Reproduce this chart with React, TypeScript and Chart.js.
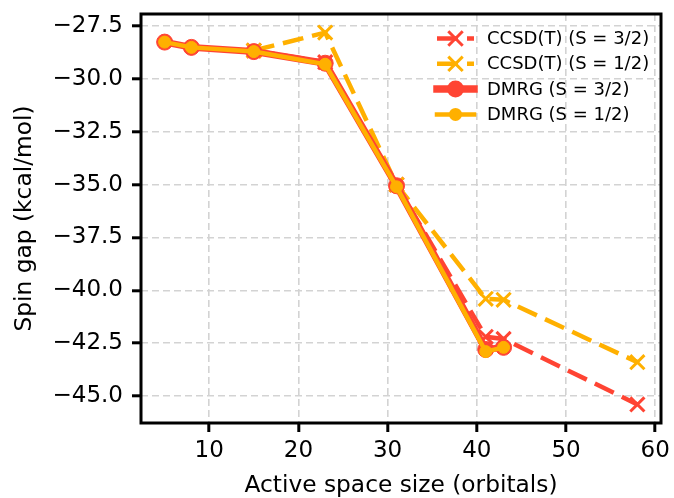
import React, { useEffect, useRef } from 'react';
import { Chart, registerables } from 'chart.js';

Chart.register(...registerables);

// ---- data ----
const ccsdOrbitals = [15, 23, 31, 41, 43, 58];
const ccsdQuartet = [-28.65, -29.2, -35.0, -42.2, -42.3, -45.4];
const ccsdDoublet = [-28.65, -27.8, -35.0, -40.4, -40.45, -43.4];
const dmrgOrbitals = [5, 8, 15, 23, 31, 41, 43];
const dmrgQuartet = [-28.25, -28.5, -28.7, -29.25, -35.05, -42.8, -42.7];
const dmrgDoublet = [-28.25, -28.5, -28.7, -29.3, -35.1, -42.9, -42.7];
const seriesLabels = ['CCSD(T) (S = 3/2)', 'CCSD(T) (S = 1/2)', 'DMRG (S = 3/2)', 'DMRG (S = 1/2)'];
const xAxisTitle = 'Active space size (orbitals)';
const yAxisTitle = 'Spin gap (kcal/mol)';

const RED = '#ff4433';
const ORANGE = '#ffb000';
const FONT = "'DejaVu Sans', sans-serif";

const toPoints = (xs: number[], ys: number[]) => xs.map((x, i) => ({ x, y: ys[i] }));

const CCSD_DASH = [21, 9];

type LegendSpec = { label: string; color: string; dashed: boolean; lineWidth: number; marker: 'x' | 'o'; size: number };

const legendSpecs: LegendSpec[] = [
  { label: seriesLabels[0], color: RED, dashed: true, lineWidth: 4.5, marker: 'x', size: 7.2 },
  { label: seriesLabels[1], color: ORANGE, dashed: true, lineWidth: 4.5, marker: 'x', size: 7.2 },
  { label: seriesLabels[2], color: RED, dashed: false, lineWidth: 7.5, marker: 'o', size: 8.5 },
  { label: seriesLabels[3], color: ORANGE, dashed: false, lineWidth: 4.5, marker: 'o', size: 6.5 },
];

const framePlugin = {
  id: 'frameAndLegend',
  afterDatasetsDraw(chart: any) {
    const { ctx, chartArea } = chart;
    const { left, right, top, bottom } = chartArea;
    ctx.save();
    // legend
    const x0 = right - 224;
    const x1 = right - 187;
    const xm = (x0 + x1) / 2;
    const tx = right - 174;
    legendSpecs.forEach((s, i) => {
      const y = top + 24.5 + 25.3 * i;
      ctx.beginPath();
      ctx.strokeStyle = s.color;
      ctx.lineWidth = s.lineWidth;
      ctx.lineCap = s.dashed ? 'butt' : 'square';
      ctx.setLineDash(s.dashed ? CCSD_DASH : []);
      ctx.moveTo(x0, y);
      ctx.lineTo(x1, y);
      ctx.stroke();
      ctx.setLineDash([]);
      ctx.lineCap = 'butt';
      if (s.marker === 'x') {
        const h = s.size;
        ctx.lineWidth = 3;
        ctx.beginPath();
        ctx.moveTo(xm - h, y - h);
        ctx.lineTo(xm + h, y + h);
        ctx.moveTo(xm - h, y + h);
        ctx.lineTo(xm + h, y - h);
        ctx.stroke();
      } else {
        ctx.beginPath();
        ctx.fillStyle = s.color;
        ctx.arc(xm, y, s.size, 0, Math.PI * 2);
        ctx.fill();
      }
      ctx.fillStyle = '#000';
      ctx.font = `18px ${FONT}`;
      ctx.textAlign = 'left';
      ctx.textBaseline = 'middle';
      ctx.fillText(s.label, tx, y + 1);
    });
    // frame
    ctx.strokeStyle = '#000';
    ctx.lineWidth = 3;
    ctx.setLineDash([]);
    ctx.strokeRect(left, top, right - left, bottom - top);
    ctx.restore();
  },
};

const fmtY = (v: number) => (v < 0 ? '\u2212' : '') + Math.abs(v).toFixed(1);

export default function App() {
  const ref = useRef<HTMLCanvasElement | null>(null);
  useEffect(() => {
    if (!ref.current) return;
    const gridColor = '#d3d3d3';
    const chart = new Chart(ref.current, {
      type: 'line',
      data: {
        datasets: [
          {
            label: seriesLabels[0],
            data: toPoints(ccsdOrbitals, ccsdQuartet),
            borderColor: RED,
            backgroundColor: RED,
            borderWidth: 4.5,
            borderDash: CCSD_DASH,
            pointStyle: 'crossRot',
            pointRadius: 10,
            pointBorderWidth: 3,
            pointBorderColor: RED,
            pointBackgroundColor: RED,
            tension: 0,
            order: 4,
          },
          {
            label: seriesLabels[1],
            data: toPoints(ccsdOrbitals, ccsdDoublet),
            borderColor: ORANGE,
            backgroundColor: ORANGE,
            borderWidth: 4.5,
            borderDash: CCSD_DASH,
            pointStyle: 'crossRot',
            pointRadius: 10,
            pointBorderWidth: 3,
            pointBorderColor: ORANGE,
            pointBackgroundColor: ORANGE,
            tension: 0,
            order: 3,
          },
          {
            label: seriesLabels[2],
            data: toPoints(dmrgOrbitals, dmrgQuartet),
            borderColor: RED,
            backgroundColor: RED,
            borderWidth: 7,
            pointStyle: 'circle',
            pointRadius: 8,
            pointBorderWidth: 1,
            pointBorderColor: RED,
            pointBackgroundColor: RED,
            tension: 0,
            order: 2,
          },
          {
            label: seriesLabels[3],
            data: toPoints(dmrgOrbitals, dmrgDoublet),
            borderColor: ORANGE,
            backgroundColor: ORANGE,
            borderWidth: 4.5,
            pointStyle: 'circle',
            pointRadius: 6,
            pointBorderWidth: 1,
            pointBorderColor: ORANGE,
            pointBackgroundColor: ORANGE,
            tension: 0,
            order: 1,
          },
        ],
      },
      options: {
        responsive: false,
        animation: false,
        devicePixelRatio: 1,
        events: [],
        layout: { padding: { top: 14, right: 9, left: 0, bottom: 0 } },
        plugins: { legend: { display: false }, tooltip: { enabled: false } },
        scales: {
          x: {
            type: 'linear',
            min: 2.35,
            max: 60.65,
            afterFit: (s: any) => {
              s.height = 75;
              s.paddingLeft = 0;
              s.paddingRight = 0;
            },
            ticks: {
              stepSize: 10,
              includeBounds: false,
              autoSkip: false,
              maxRotation: 0,
              color: '#000',
              padding: 5,
              font: { family: FONT, size: 23 },
              callback: (v: any) => String(v),
            },
            grid: {
              color: gridColor,
              lineWidth: 1.6,
              tickLength: 9,
              tickWidth: 3,
              tickColor: '#000',
              tickBorderDash: [],
            },
            border: { display: false, dash: [7, 4] },
            title: {
              display: true,
              text: xAxisTitle,
              color: '#000',
              font: { family: FONT, size: 23.3, lineHeight: 1 },
              padding: { top: 0, bottom: 0 },
            },
          },
          y: {
            type: 'linear',
            min: -46.28,
            max: -26.92,
            afterFit: (s: any) => {
              s.width = 141;
              s.paddingTop = 0;
              s.paddingBottom = 0;
            },
            ticks: {
              stepSize: 2.5,
              includeBounds: false,
              autoSkip: false,
              color: '#000',
              padding: 9,
              font: { family: FONT, size: 23 },
              callback: (v: any) => fmtY(Number(v)),
            },
            grid: {
              color: gridColor,
              lineWidth: 1.6,
              tickLength: 9,
              tickWidth: 3,
              tickColor: '#000',
              tickBorderDash: [],
            },
            border: { display: false, dash: [7, 4] },
            title: {
              display: true,
              text: yAxisTitle,
              color: '#000',
              font: { family: FONT, size: 23.3, lineHeight: 1 },
              padding: { top: 13, bottom: 0 },
            },
          },
        },
      },
      plugins: [framePlugin],
    } as any);
    return () => chart.destroy();
  }, []);

  return (
    <div style={{ position: 'fixed', left: 0, top: 0, width: 674, height: 498, background: '#fff' }}>
      <canvas ref={ref} width={674} height={498} style={{ display: 'block', width: 674, height: 498 }} />
    </div>
  );
}
